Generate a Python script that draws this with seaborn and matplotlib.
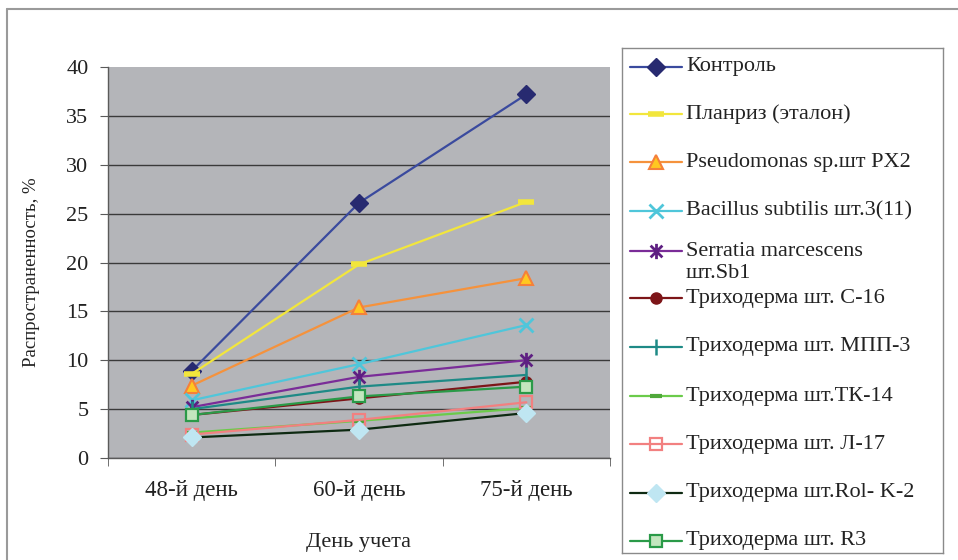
import matplotlib
matplotlib.use("Agg")
import matplotlib.pyplot as plt
from matplotlib.lines import Line2D
from matplotlib.path import Path
from matplotlib.ticker import FixedLocator
import seaborn as sns

# ---- data ----
days = ["48-й день", "60-й день", "75-й день"]

names = [
    "Контроль",
    "Планриз (эталон)",
    "Pseudomonas sp.шт PX2",
    "Bacillus subtilis шт.3(11)",
    "Serratia marcescens\nшт.Sb1",
    "Триходерма шт. С-16",
    "Триходерма шт. МПП-3",
    "Триходерма шт.ТК-14",
    "Триходерма шт. Л-17",
    "Триходерма шт.Rol- K-2",
    "Триходерма шт. R3",
]

kontrol = [8.9, 26.1, 37.2]
planriz = [8.6, 19.8, 26.2]
pseudomonas = [7.4, 15.4, 18.4]
bacillus = [5.9, 9.6, 13.6]
serratia = [5.2, 8.3, 10.0]
c16 = [4.4, 6.1, 7.8]
mpp3 = [5.0, 7.3, 8.5]
tk14 = [2.6, 3.8, 5.1]
l17 = [2.4, 3.9, 5.7]
rolk2 = [2.1, 2.9, 4.6]
r3 = [4.4, 6.3, 7.3]

values = [kontrol, planriz, pseudomonas, bacillus, serratia, c16, mpp3,
          tk14, l17, rolk2, r3]

# asterisk marker: an "x" crossed by a vertical bar
star_path = Path(
    [(-1, -1), (1, 1), (-1, 1), (1, -1), (0, -1.3), (0, 1.3)],
    [Path.MOVETO, Path.LINETO, Path.MOVETO, Path.LINETO, Path.MOVETO, Path.LINETO],
)

styles = [
    dict(color="#3A4A9E", marker="D", ms=9, mfc="#272A70", mec="#272A70", mew=1),
    dict(color="#F2E63C", marker="_", ms=12, mfc="#F2E63C", mec="#F2E63C", mew=4),
    dict(color="#F5923C", marker="^", ms=10, mfc="#FFC820", mec="#F5803A", mew=1.5),
    dict(color="#4FC6DA", marker="x", ms=10, mfc="#4FC6DA", mec="#4FC6DA", mew=2),
    dict(color="#7A2C98", marker=star_path, ms=11, mfc="#5E1F82", mec="#5E1F82", mew=2),
    dict(color="#7D1518", marker="o", ms=8, mfc="#7D1518", mec="#7D1518", mew=1),
    dict(color="#1E8A86", marker="|", ms=12, mfc="#1E8A86", mec="#1E8A86", mew=1.8),
    dict(color="#6BCB4A", marker="_", ms=8, mfc="#4FA83A", mec="#4FA83A", mew=3),
    dict(color="#F28080", marker="s", ms=9, mfc="none", mec="#F28080", mew=1.6),
    dict(color="#0E2A12", marker="D", ms=9, mfc="#BFE6F2", mec="#BFE6F2", mew=1),
    dict(color="#2A9A48", marker="s", ms=9, mfc="#C3E6BE", mec="#2A9A48", mew=1.6),
]

sns.set_style("white")
serif = ["Liberation Serif", "DejaVu Serif"]
plt.rcParams["font.family"] = serif

fig = plt.figure(figsize=(9.58, 5.6), dpi=100)
fig.patch.set_facecolor("white")

# chart frame
fig.add_artist(Line2D([7 / 958, 7 / 958], [0, 1 - 9 / 560],
                      transform=fig.transFigure, color="#9A9A9A", lw=1.5))
fig.add_artist(Line2D([7 / 958, 1], [1 - 9 / 560, 1 - 9 / 560],
                      transform=fig.transFigure, color="#9A9A9A", lw=1.5))

ax = fig.add_axes([108 / 958, 1 - 458 / 560, 502 / 958, 391 / 560])
ax.set_facecolor("#B4B5B9")

for vals, st in zip(values, styles):
    sns.lineplot(x=days, y=vals, ax=ax, lw=1.6, errorbar=None, sort=False,
                 legend=False, zorder=3, **st)

ax.set_xlim(-0.5, 2.5)
ax.set_ylim(0, 40)
ax.set_yticks(range(0, 41, 5))
ax.yaxis.grid(True, color="#3A3A3A", lw=1)
ax.yaxis.get_gridlines()[-1].set_visible(False)
ax.set_axisbelow(True)

for s in ("top", "right"):
    ax.spines[s].set_visible(False)
for s in ("left", "bottom"):
    ax.spines[s].set_color("#5A5A5A")
    ax.spines[s].set_linewidth(1)

ax.set_xticks([0, 1, 2])
ax.set_xticklabels(days, fontsize=16.5, color="#222222")
ax.xaxis.set_minor_locator(FixedLocator([-0.5, 0.5, 1.5, 2.5]))
ax.tick_params(axis="x", which="major", length=0, pad=16)
ax.tick_params(axis="x", which="minor", length=6, direction="out",
               color="#5A5A5A", bottom=True)
ax.tick_params(axis="y", length=6, direction="out", color="#5A5A5A",
               labelsize=16, pad=8, labelcolor="#222222", left=True)

ax.set_ylabel("Распространенность, %", fontsize=13.5, color="#222222")
ax.yaxis.set_label_coords((40 - 108) / 502, (458 - 272) / 391)
ax.set_xlabel("День учета", fontsize=16, color="#222222")
ax.xaxis.set_label_coords((358 - 108) / 502, (458 - 533) / 391)

# legend box
lax = fig.add_axes([622 / 958, 1 - 553 / 560, 321 / 958, 505 / 560])
lax.set_xlim(0, 321)
lax.set_ylim(505, 0)
lax.set_xticks([])
lax.set_yticks([])
for s in lax.spines.values():
    s.set_color("#8A8A8A")
    s.set_linewidth(1)

rows = [19, 66, 114, 163, 203, 250, 299, 348, 396, 445, 493]
for name, st, y in zip(names, styles, rows):
    kw = dict(st)
    c = kw.pop("color")
    lax.add_line(Line2D([8, 60], [y, y], color=c, lw=1.6))
    lax.add_line(Line2D([34], [y], color=c, lw=0, **kw))
    lines = name.split("\n")
    lax.text(64, y, lines[0], fontsize=16, va="center", ha="left",
             color="#222222")
    if len(lines) > 1:
        lax.text(64, y + 23, lines[1], fontsize=16, va="center",
                 ha="left", color="#222222")

fig.savefig("out.png", dpi=100, facecolor="white")
